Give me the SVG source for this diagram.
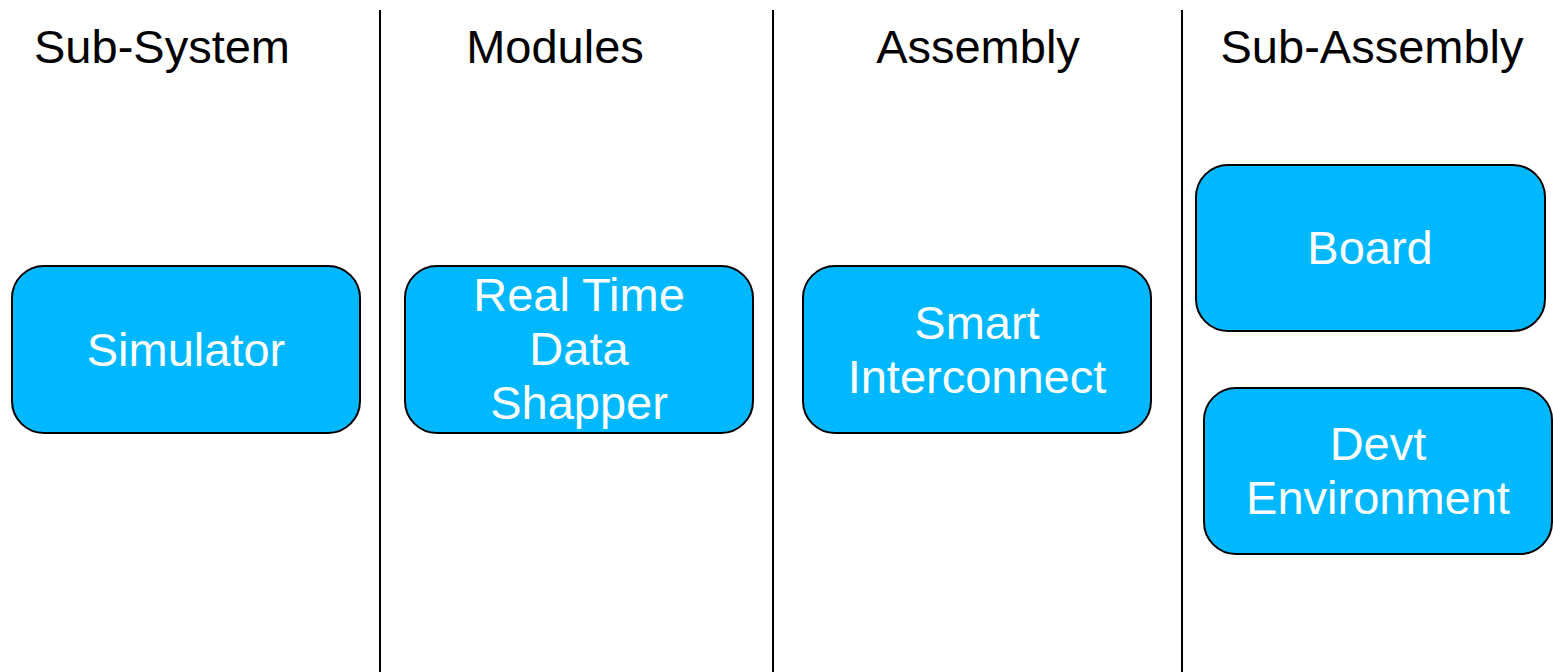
<svg xmlns="http://www.w3.org/2000/svg" width="1553" height="672" viewBox="0 0 1553 672">
<style>
.hdr{font-family:"Liberation Sans",Arial,sans-serif;font-size:47px;fill:#000;text-anchor:middle}
.box{fill:#00B8FF;stroke:#000;stroke-width:2}
.lbl{font-family:"Liberation Sans",Arial,sans-serif;font-size:47px;fill:#fff;text-anchor:middle}
.sep{stroke:#000;stroke-width:2}
</style>
<rect width="1553" height="672" fill="#fff"/>
<g id="separators">
<line class="sep" x1="380" y1="10" x2="380" y2="672"/>
<line class="sep" x1="773" y1="10" x2="773" y2="672"/>
<line class="sep" x1="1182" y1="10" x2="1182" y2="672"/>
</g>
<g id="headers">
<text class="hdr" x="162" y="63">Sub-System</text>
<text class="hdr" x="555" y="63">Modules</text>
<text class="hdr" x="978" y="63">Assembly</text>
<text class="hdr" x="1372" y="63">Sub-Assembly</text>
</g>
<g id="connectors"></g>
<g id="simulator">
<rect class="box" x="12" y="266" width="348" height="167" rx="32"/>
<text class="lbl" x="186" y="366">Simulator</text>
</g>
<g id="shapper">
<rect class="box" x="405" y="266" width="348" height="167" rx="32"/>
<text class="lbl" x="579" y="311">Real Time</text>
<text class="lbl" x="579" y="365">Data</text>
<text class="lbl" x="579" y="419">Shapper</text>
</g>
<g id="interconnect">
<rect class="box" x="803" y="266" width="348" height="167" rx="32"/>
<text class="lbl" x="977" y="339">Smart</text>
<text class="lbl" x="977" y="393">Interconnect</text>
</g>
<g id="board">
<rect class="box" x="1196" y="165" width="349" height="166" rx="32"/>
<text class="lbl" x="1370" y="264">Board</text>
</g>
<g id="devt">
<rect class="box" x="1204" y="388" width="348" height="166" rx="32"/>
<text class="lbl" x="1378" y="460">Devt</text>
<text class="lbl" x="1378" y="514">Environment</text>
</g>
</svg>
